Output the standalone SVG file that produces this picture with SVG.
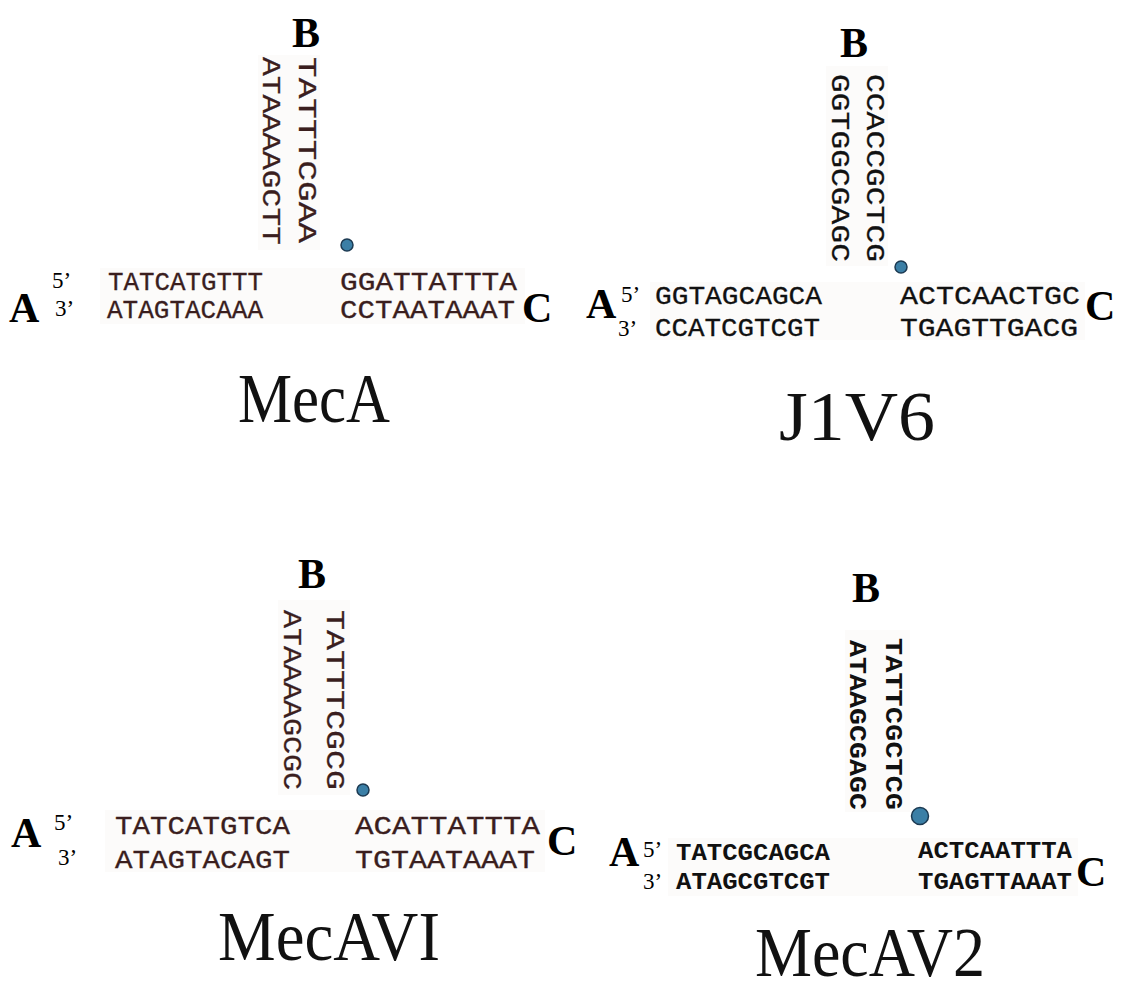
<svg xmlns="http://www.w3.org/2000/svg" width="1139" height="989" viewBox="0 0 1139 989">
  <style>
    .lbl { font-family: "Liberation Serif", "Times New Roman", serif; font-weight: bold; font-size: 42px; fill: #000; }
    .end { font-family: "Liberation Serif", "Times New Roman", serif; font-size: 23px; fill: #000; }
    .title { font-family: "Liberation Serif", "Times New Roman", serif; font-size: 70px; fill: #111; }
    .seq { font-family: "Liberation Mono", "Courier New", monospace; font-size: 26px; fill: #3a1e1e; stroke: #3a1e1e; stroke-width: 0.3; }
    .seqk { font-family: "Liberation Mono", "Courier New", monospace; font-size: 26px; fill: #111; stroke: #111; stroke-width: 0.3; }
    .seqb { font-family: "Liberation Mono", "Courier New", monospace; font-size: 23px; font-weight: bold; fill: #111; }
    .dot { fill: #3b7fa6; stroke: #1c3a52; stroke-width: 1.5; }
    .pad { fill: #fcfbfa; }
  </style>
  <rect width="1139" height="989" fill="#fff"/>

  <!-- Junction MecA -->
  <g id="mecA">
    <rect class="pad" x="258" y="55" width="62" height="195"/>
    <rect class="pad" x="100" y="268" width="425" height="56"/>
    <text class="lbl" x="292" y="47">B</text>
    <text class="seq" x="263" y="57" transform="rotate(90 263 57)" textLength="188" lengthAdjust="spacingAndGlyphs">ATAAAAGCTT</text>
    <text class="seq" x="299" y="57" transform="rotate(90 299 57)" textLength="186" lengthAdjust="spacingAndGlyphs">TATTTCGAA</text>
    <circle class="dot" cx="347" cy="245" r="6"/>
    <text class="end" x="52" y="288">5’</text>
    <text class="end" x="55" y="316">3’</text>
    <text class="lbl" x="9" y="322">A</text>
    <text class="lbl" x="522" y="322">C</text>
    <text class="seq" x="108" y="290" textLength="155" lengthAdjust="spacingAndGlyphs">TATCATGTTT</text>
    <text class="seq" x="340" y="290" textLength="177" lengthAdjust="spacingAndGlyphs">GGATTATTTA</text>
    <text class="seq" x="107" y="318" textLength="156" lengthAdjust="spacingAndGlyphs">ATAGTACAAA</text>
    <text class="seq" x="340" y="318" textLength="175" lengthAdjust="spacingAndGlyphs">CCTAATAAAT</text>
    <text class="title" x="238" y="422" textLength="152" lengthAdjust="spacingAndGlyphs">MecA</text>
  </g>

  <!-- Junction J1V6 -->
  <g id="j1v6">
    <rect class="pad" x="826" y="66" width="62" height="200"/>
    <rect class="pad" x="650" y="282" width="435" height="58"/>
    <text class="lbl" x="840" y="57">B</text>
    <text class="seqk" x="832" y="74" transform="rotate(90 832 74)" textLength="188" lengthAdjust="spacingAndGlyphs">GGTGGCGAGC</text>
    <text class="seqk" x="867" y="74" transform="rotate(90 867 74)" textLength="188" lengthAdjust="spacingAndGlyphs">CCACCGCTCG</text>
    <circle class="dot" cx="901" cy="267" r="6"/>
    <text class="end" x="621" y="302">5’</text>
    <text class="end" x="618" y="336">3’</text>
    <text class="lbl" x="586" y="318">A</text>
    <text class="lbl" x="1085" y="320">C</text>
    <text class="seqk" x="655" y="304" textLength="167" lengthAdjust="spacingAndGlyphs">GGTAGCAGCA</text>
    <text class="seqk" x="900" y="304" textLength="180" lengthAdjust="spacingAndGlyphs">ACTCAACTGC</text>
    <text class="seqk" x="655" y="336" textLength="165" lengthAdjust="spacingAndGlyphs">CCATCGTCGT</text>
    <text class="seqk" x="900" y="336" textLength="178" lengthAdjust="spacingAndGlyphs">TGAGTTGACG</text>
    <text class="title" x="779" y="440" textLength="156" lengthAdjust="spacingAndGlyphs">J1V6</text>
  </g>

  <!-- Junction MecAVI -->
  <g id="mecAVI">
    <rect class="pad" x="278" y="600" width="72" height="195"/>
    <rect class="pad" x="105" y="810" width="440" height="62"/>
    <text class="lbl" x="298" y="588">B</text>
    <text class="seq" x="284" y="610" transform="rotate(90 284 610)" textLength="180" lengthAdjust="spacingAndGlyphs">ATAAAAGCGC</text>
    <text class="seq" x="327" y="610" transform="rotate(90 327 610)" textLength="180" lengthAdjust="spacingAndGlyphs">TATTTCGCG</text>
    <circle class="dot" cx="363" cy="790" r="6"/>
    <text class="end" x="54" y="830">5’</text>
    <text class="end" x="58" y="865">3’</text>
    <text class="lbl" x="11" y="847">A</text>
    <text class="lbl" x="547" y="855">C</text>
    <text class="seq" x="115" y="834" textLength="175" lengthAdjust="spacingAndGlyphs">TATCATGTCA</text>
    <text class="seq" x="355" y="834" textLength="185" lengthAdjust="spacingAndGlyphs">ACATTATTTA</text>
    <text class="seq" x="115" y="868" textLength="175" lengthAdjust="spacingAndGlyphs">ATAGTACAGT</text>
    <text class="seq" x="355" y="868" textLength="180" lengthAdjust="spacingAndGlyphs">TGTAATAAAT</text>
    <text class="title" x="218" y="960" textLength="222" lengthAdjust="spacingAndGlyphs">MecAVI</text>
  </g>

  <!-- Junction MecAV2 -->
  <g id="mecAV2">
    <rect class="pad" x="845" y="630" width="65" height="182"/>
    <rect class="pad" x="668" y="838" width="410" height="58"/>
    <text class="lbl" x="852" y="602">B</text>
    <text class="seqb" x="850" y="640" transform="rotate(90 850 640)" textLength="170" lengthAdjust="spacingAndGlyphs">ATAAGCGAGC</text>
    <text class="seqb" x="886" y="638" transform="rotate(90 886 638)" textLength="172" lengthAdjust="spacingAndGlyphs">TATTCGCTCG</text>
    <circle class="dot" cx="920" cy="816" r="8.5"/>
    <text class="end" x="643" y="857">5’</text>
    <text class="end" x="643" y="889">3’</text>
    <text class="lbl" x="609" y="866">A</text>
    <text class="lbl" x="1076" y="886">C</text>
    <text class="seqb" x="676" y="860" textLength="154" lengthAdjust="spacingAndGlyphs">TATCGCAGCA</text>
    <text class="seqb" x="918" y="858" textLength="154" lengthAdjust="spacingAndGlyphs">ACTCAATTTA</text>
    <text class="seqb" x="676" y="889" textLength="154" lengthAdjust="spacingAndGlyphs">ATAGCGTCGT</text>
    <text class="seqb" x="918" y="889" textLength="154" lengthAdjust="spacingAndGlyphs">TGAGTTAAAT</text>
    <text class="title" x="755" y="976" textLength="230" lengthAdjust="spacingAndGlyphs">MecAV2</text>
  </g>

  <!-- No connectors are drawn in this figure -->
  <g id="connectors"/>
</svg>
